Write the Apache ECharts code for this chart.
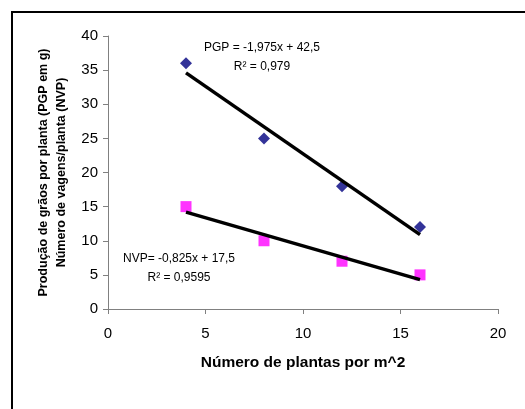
<!DOCTYPE html>
<html>
<head>
<meta charset="utf-8">
<script src="https://cdn.jsdelivr.net/npm/echarts@6/dist/echarts.min.js"></script>
<style>html,body{margin:0;padding:0;background:#fff}#c{width:525px;height:409px}</style>
</head>
<body>
<div id="c"></div>
<script>
const pgpPoints = [[4, 36], [8, 25], [12, 18], [16, 12]];
const nvpPoints = [[4, 15], [8, 10], [12, 7], [16, 5]];
const pgpTrend = [[4, 34.6], [16, 10.9]];
const nvpTrend = [[4, 14.2], [16, 4.3]];
const xTicks = [0, 5, 10, 15, 20];
const yTicks = [0, 5, 10, 15, 20, 25, 30, 35, 40];
const pgpLabel = ['PGP = -1,975x + 42,5', 'R² = 0,979'];
const nvpLabel = ['NVP= -0,825x + 17,5', 'R² = 0,9595'];

const chart = echarts.init(document.getElementById('c'), null, {renderer: 'canvas'});
const F = 'Arial, "Liberation Sans", sans-serif';
chart.setOption({
  animation: false,
  textStyle: {fontFamily: F},
  grid: {left: 108, right: 27, top: 36, bottom: 100},
  xAxis: {
    type: 'value', min: xTicks[0], max: xTicks[xTicks.length - 1], interval: 5,
    name: 'Número de plantas por m^2', nameLocation: 'middle', nameGap: 46,
    nameTextStyle: {fontFamily: F, fontSize: 15.5, fontWeight: 'bold', color: '#000'},
    axisLine: {lineStyle: {color: '#808080', width: 1}},
    axisTick: {show: true, length: 5, lineStyle: {color: '#808080'}},
    axisLabel: {fontFamily: F, fontSize: 15, color: '#000', margin: 17},
    splitLine: {show: false}
  },
  yAxis: {
    type: 'value', min: yTicks[0], max: yTicks[yTicks.length - 1], interval: 5,
    name: 'Produção de grãos por planta (PGP em g)\nNúmero de vagens/planta (NVP)',
    nameLocation: 'middle', nameGap: 36, nameRotate: 90,
    nameTextStyle: {fontFamily: F, fontSize: 12.5, fontWeight: 'bold', color: '#000', lineHeight: 18},
    axisLine: {show: true, lineStyle: {color: '#808080', width: 1}},
    axisTick: {show: true, length: 5, lineStyle: {color: '#808080'}},
    axisLabel: {fontFamily: F, fontSize: 15, color: '#000', margin: 10},
    splitLine: {show: false}
  },
  graphic: [
    {type: 'rect', shape: {x: 12, y: 12, width: 600, height: 600},
     style: {fill: 'none', stroke: '#000', lineWidth: 2}, silent: true},
    {type: 'text', style: {text: pgpLabel[0], x: 262, y: 48, fill: '#000', font: '12px ' + F, textAlign: 'center', textVerticalAlign: 'middle'}},
    {type: 'text', style: {text: pgpLabel[1], x: 262, y: 67, fill: '#000', font: '12px ' + F, textAlign: 'center', textVerticalAlign: 'middle'}},
    {type: 'text', style: {text: nvpLabel[0], x: 179, y: 259, fill: '#000', font: '12px ' + F, textAlign: 'center', textVerticalAlign: 'middle'}},
    {type: 'text', style: {text: nvpLabel[1], x: 179, y: 278, fill: '#000', font: '12px ' + F, textAlign: 'center', textVerticalAlign: 'middle'}}
  ],
  series: [
    {type: 'line', data: pgpTrend, symbol: 'none', lineStyle: {color: '#000', width: 3.5}, z: 3},
    {type: 'line', data: nvpTrend, symbol: 'none', lineStyle: {color: '#000', width: 3.5}, z: 3},
    {type: 'scatter', data: pgpPoints, symbol: 'diamond', symbolSize: [12, 12], itemStyle: {color: '#000080'}, z: 2},
    {type: 'scatter', data: nvpPoints, symbol: 'rect', symbolSize: [11, 11], itemStyle: {color: '#FF00FF'}, z: 2}
  ]
});
</script>
</body>
</html>
